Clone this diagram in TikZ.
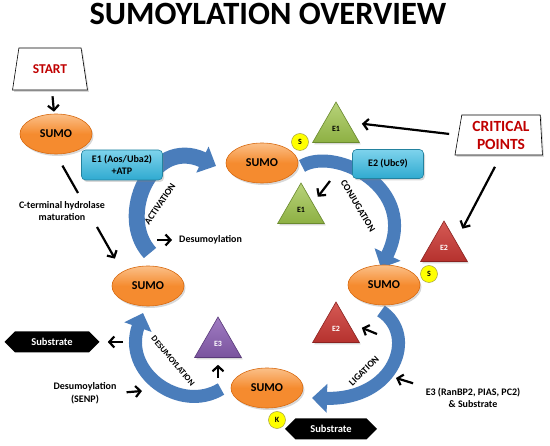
\documentclass[tikz,border=0pt]{standalone}
\usepackage{fontspec}
\setmainfont{Carlito}
\usepackage{xcolor}
\usetikzlibrary{shadows,shapes.geometric,shapes.symbols,arrows.meta}

\definecolor{sumoorange}{HTML}{F58B2F}
\definecolor{sumolight}{HTML}{FBC089}
\definecolor{sumoedge}{HTML}{D86A10}
\definecolor{enzcyan}{HTML}{2FAAD0}
\definecolor{enzlight}{HTML}{7ED3EC}
\definecolor{enzedge}{HTML}{23829F}
\definecolor{arcblue}{HTML}{4A7DBB}
\definecolor{trigreen}{HTML}{8DB043}
\definecolor{trigreenlight}{HTML}{B8D37A}
\definecolor{trigreenedge}{HTML}{6A8A2E}
\definecolor{trired}{HTML}{B5322E}
\definecolor{triredlight}{HTML}{D55A55}
\definecolor{triredEdge}{HTML}{8C2220}
\definecolor{tripurple}{HTML}{7A539E}
\definecolor{tripurplelight}{HTML}{A07CC2}
\definecolor{tripurpleedge}{HTML}{5A3A7A}
\definecolor{critred}{HTML}{C00000}
\definecolor{dotyellow}{HTML}{FFFF00}

\begin{document}
\begin{tikzpicture}[x=1pt,y=-1pt,
  softshadow/.style={drop shadow={opacity=0.3,shadow xshift=1.5pt,shadow yshift=-2pt}},
  sumo/.style={ellipse, draw=sumoedge, line width=0.6pt, top color=sumolight,
    bottom color=sumoorange, middle color=sumoorange, minimum width=72pt,
    minimum height=40pt, inner sep=0pt, font=\fontsize{12}{14}\selectfont\bfseries, softshadow},
  enzbox/.style={rectangle, rounded corners=4pt, draw=enzedge, line width=0.6pt,
    top color=enzlight, bottom color=enzcyan, inner sep=1pt, align=center,
    font=\fontsize{10}{12}\selectfont\bfseries, softshadow},
  tri/.style={regular polygon, regular polygon sides=3, minimum size=54pt, inner sep=0pt,
    line width=0.6pt, font=\fontsize{8}{9}\selectfont\bfseries, softshadow},
  greentri/.style={tri, draw=trigreenedge, top color=trigreenlight, bottom color=trigreen},
  redtri/.style={tri, draw=triredEdge, top color=triredlight, bottom color=trired, text=white},
  purpletri/.style={tri, draw=tripurpleedge, top color=tripurplelight, bottom color=tripurple, text=white},
  sdot/.style={circle, minimum size=17pt, inner sep=0pt, draw=yellow!60!black, line width=0.5pt,
    fill=dotyellow, font=\fontsize{8}{9}\selectfont\bfseries},
  subst/.style={signal, signal to=west and east, fill=black, text=white, minimum height=21pt,
    inner sep=1pt, font=\fontsize{10.5}{12}\selectfont\bfseries},
  note/.style={inner sep=1pt, align=center, font=\fontsize{10}{12.5}\selectfont\bfseries},
  arclabel/.style={inner sep=0pt, font=\fontsize{9.5}{11}\selectfont\bfseries},
  arcarrow/.style={draw=arcblue, line width=13pt, -{Triangle[length=15pt,width=28pt]}},
  blackarrow/.style={line width=2.2pt, -{Straight Barb[length=5pt,width=11pt]}},
  trap/.style={trapezium, draw, fill=white, line width=0.6pt, trapezium stretches=true,
    text=critred, align=center, softshadow}
]
  % Fix the page size
  \fill[white] (0,0) rectangle (550,446);
  \useasboundingbox (0,0) rectangle (550,446);

  % Title
  \node[anchor=base, font=\fontsize{32.5}{38}\selectfont\bfseries] (title) at (268,25) {SUMOYLATION OVERVIEW};

  % Big blue cycle arrows
  \draw[arcarrow, line width=16pt] (150,253) .. controls (116,216) and (152,136) .. (216,166);
  \draw[arcarrow] (302,166) .. controls (335,146) and (420,188) .. (381,268);
  \draw[arcarrow] (381,311) .. controls (418,335) and (395,400) .. (312,398);
  \draw[arcarrow] (221,389) .. controls (180,414) and (122,372) .. (143,313);

  % Labels along the cycle
  \node[arclabel, rotate=56] (actlabel) at (160,204) {ACTIVATION};
  \node[arclabel, rotate=-59] (conjlabel) at (358,206) {CONJUGATION};
  \node[arclabel, rotate=44] (liglabel) at (364,371) {LIGATION};
  \node[arclabel, font=\fontsize{8.5}{10}\selectfont\bfseries, rotate=-50] (desumolabel) at (173,361) {DESUMOYLATION};

  % Boxes for start and critical points
  \node[trap, trapezium left angle=75, trapezium right angle=75, minimum width=75pt,
    minimum height=42pt, font=\fontsize{13.5}{16}\selectfont\bfseries] (start) at (50,69) {START};
  \node[trap, trapezium left angle=81, trapezium right angle=87, minimum width=88pt,
    minimum height=40pt, font=\fontsize{15.5}{18}\selectfont\bfseries] (crit) at (501,135) {CRITICAL\\POINTS};

  % SUMO ellipses
  \node[sumo] (sumoA) at (56,134) {SUMO};
  \node[sumo] (sumoB) at (148,286) {SUMO};
  \node[sumo] (sumoC) at (262,163) {SUMO};
  \node[sumo] (sumoD) at (384,285) {SUMO};
  \node[sumo] (sumoE) at (267,388) {SUMO};

  % Enzyme boxes
  \node[enzbox, minimum width=81pt, minimum height=30pt] (boxEone) at (122,165) {E1 (Aos/Uba2)\\+ATP};
  \node[enzbox, minimum width=71pt, minimum height=29pt] (boxEtwo) at (388,164) {E2 (Ubc9)};

  % Enzyme triangles
  \node[greentri] (e1top) at (336,129) {E1};
  \node[greentri] (e1low) at (301,210) {E1};
  \node[redtri] (e2top) at (444,248) {E2};
  \node[redtri] (e2low) at (336,329) {E2};
  \node[purpletri] (e3) at (218,344) {E3};

  % Yellow dots
  \node[sdot] (sdotC) at (300,142) {S};
  \node[sdot] (sdotD) at (429,274) {S};
  \node[sdot] (kdot) at (277,420) {K};

  % Substrate tags
  \node[subst, minimum width=95pt] (substL) at (52,342) {Substrate};
  \node[subst, minimum width=92pt] (substB) at (331,429) {Substrate};

  % Notes
  \node[note] (hydro) at (62,211) {C-terminal hydrolase\\maturation};
  \node[note, anchor=west] (desumoTop) at (178,240) {Desumoylation};
  \node[note] (senp) at (85,393) {Desumoylation\\(SENP)};
  \node[note] (e3text) at (473,398) {E3 (RanBP2, PIAS, PC2)\\\& Substrate};

  % Free ends of the small arrows
  \coordinate (hydroEnd) at (78,193);
  \coordinate (hydroTail) at (97,227);
  \coordinate (desumoTail) at (157,240);
  \coordinate (eoneTail) at (330,181);
  \coordinate (etwoTail) at (377,334);
  \coordinate (ligArc) at (396,378);
  \coordinate (ethreeTail) at (218,378);
  \coordinate (substTail) at (123,342);
  \coordinate (desArc) at (142,391);

  % Small black arrows
  \draw[blackarrow, shorten <=6pt, shorten >=2pt] (start) -- (sumoA);
  \draw[line width=2.2pt, shorten <=13pt] (sumoA.south) -- (hydroEnd);
  \draw[blackarrow, shorten >=15pt] (hydroTail) -- (sumoB.north west);
  \draw[blackarrow, shorten >=6pt] (desumoTail) -- (desumoTop.west);
  \draw[blackarrow, shorten <=9pt, shorten >=14pt] (crit.west) -- (e1top.side 3);
  \draw[blackarrow, shorten <=13pt, shorten >=14pt] (crit.south) -- (e2top.side 3);
  \draw[blackarrow, shorten >=8pt] (eoneTail) -- (e1low.side 3);
  \draw[blackarrow, shorten >=15pt] (etwoTail) -- (e2low.side 3);
  \draw[blackarrow, shorten <=12pt] (e3text.north west) -- (ligArc);
  \draw[blackarrow, shorten >=7pt] (ethreeTail) -- (e3.side 2);
  \draw[blackarrow, shorten >=8pt] (substTail) -- (substL.east);
  \draw[blackarrow, shorten <=9pt] (senp.east) -- (desArc);
\end{tikzpicture}
\end{document}
